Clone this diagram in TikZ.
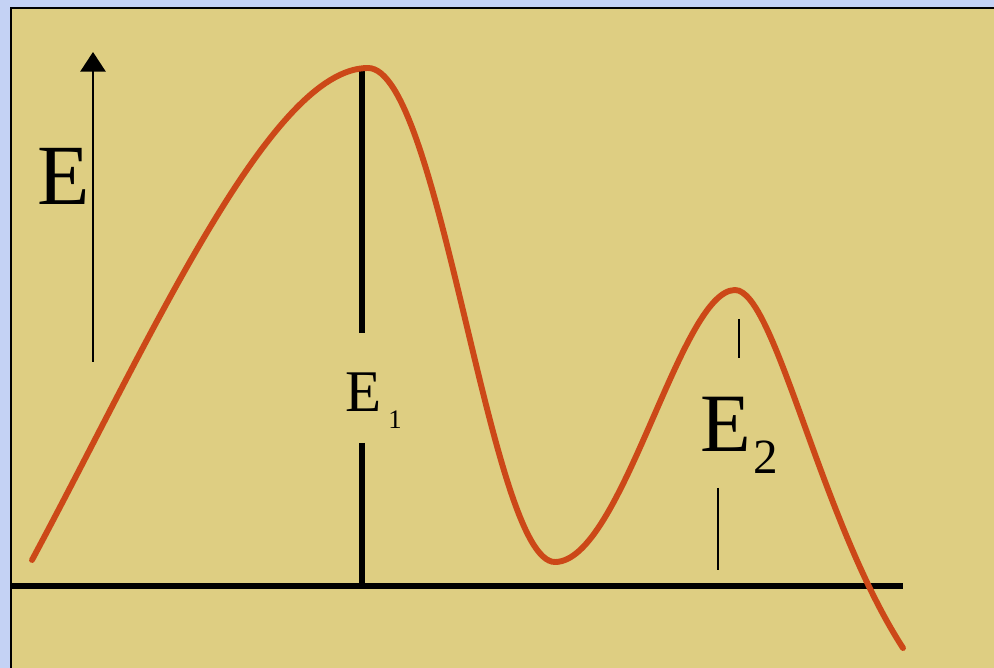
\documentclass[tikz,border=0pt]{standalone}
\usepackage{fontspec}
\setmainfont{Liberation Serif}
\usetikzlibrary{arrows.meta}
\definecolor{frameblue}{RGB}{196,210,244}
\definecolor{paneltan}{RGB}{222,206,130}
\definecolor{curvered}{RGB}{204,72,24}

\begin{document}
\begin{tikzpicture}[x=0.025cm, y=-0.025cm, >={Triangle[width=18pt,length=14pt]}]
    \useasboundingbox (0,0) rectangle (994,668);
    % Frame and panel
    \fill[frameblue] (0,0) rectangle (994,668);
    \fill[paneltan] (11,8) rectangle (994,668);
    \draw[line width=1.6pt] (11,668) -- (11,8) -- (994,8);

    % Energy axis
    \coordinate (axfoot) at (93,362);
    \coordinate (axtip) at (93,52);
    \draw[->, line width=1.3pt] (axfoot) -- (axtip);
    \node[anchor=base west, inner sep=0pt, font=\fontsize{61}{61}\selectfont] (lblE) at (37,205) {E};

    % Base line
    \coordinate (baseL) at (11,586);
    \coordinate (baseR) at (903,586);
    \draw[line width=4.3pt] (baseL) -- (baseR);

    % Barrier 1
    \coordinate (peak1) at (362,68);
    \coordinate (gap1a) at (362,333);
    \coordinate (gap1b) at (362,443);
    \coordinate (foot1) at (362,586);
    \draw[line width=3.6pt] (peak1) -- (gap1a);
    \draw[line width=3.6pt] (gap1b) -- (foot1);
    \node[anchor=base west, inner sep=0pt, font=\fontsize{42}{42}\selectfont] (lblEone) at (345,412)
        {E\hspace{5pt}\raisebox{-11.5pt}{\fontsize{19}{19}\selectfont 1}};

    % Barrier 2
    \coordinate (tick2a) at (739,319);
    \coordinate (tick2b) at (739,358);
    \coordinate (tick2c) at (718,488);
    \coordinate (tick2d) at (718,570);
    \draw[line width=1pt] (tick2a) -- (tick2b);
    \draw[line width=1pt] (tick2c) -- (tick2d);
    \node[anchor=base west, inner sep=0pt, font=\fontsize{59}{59}\selectfont] (lblEtwo) at (700,452)
        {E\hspace{2pt}\raisebox{-15pt}{\fontsize{35}{35}\selectfont 2}};

    % Energy curve
    \coordinate (start) at (32,560);
    \coordinate (top1) at (368,68);
    \coordinate (valley) at (555,562);
    \coordinate (top2) at (735,290);
    \coordinate (finish) at (903,648);
    \draw[curvered, line width=4.2pt, line cap=round]
        (start) .. controls (150,340) and (270,68) .. (top1)
        .. controls (440,68) and (490,562) .. (valley)
        .. controls (622,562) and (680,290) .. (top2)
        .. controls (775,290) and (820,520) .. (finish);
\end{tikzpicture}
\end{document}
